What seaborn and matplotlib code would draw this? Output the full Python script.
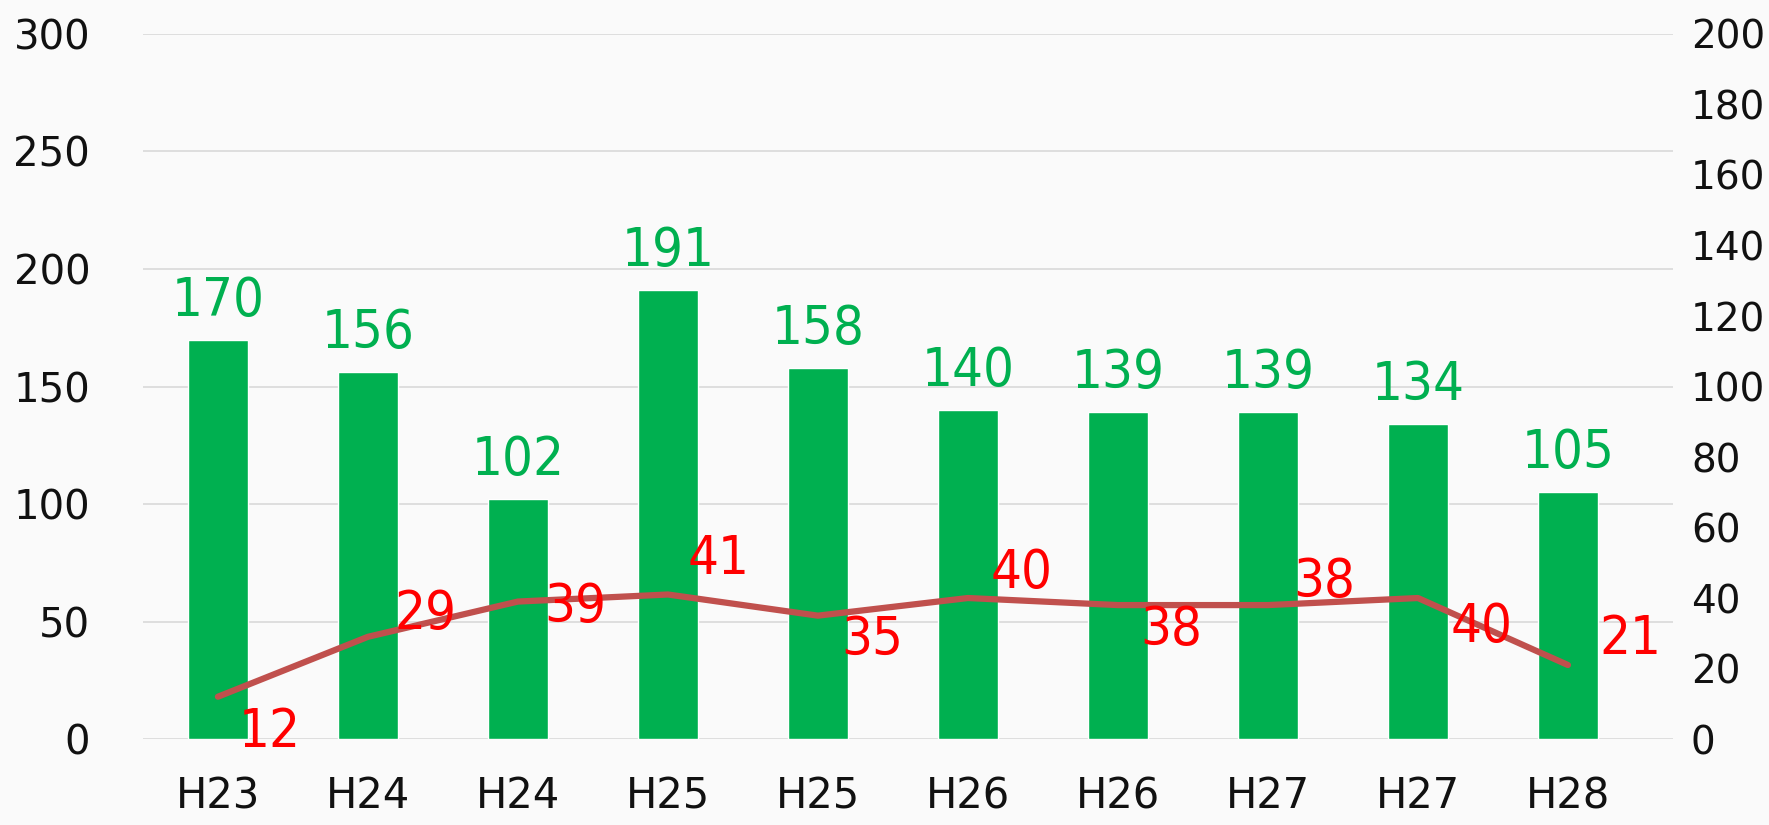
import numpy as np
import pandas as pd
import matplotlib
matplotlib.use("Agg")
import matplotlib.pyplot as plt
import seaborn as sns

# dados
categorias = ["H23", "H24", "H24", "H25", "H25", "H26", "H26", "H27", "H27", "H28"]
barras = [170, 156, 102, 191, 158, 140, 139, 139, 134, 105]
linha = [12, 29, 39, 41, 35, 40, 38, 38, 40, 21]
# deslocamento dos rótulos da linha (pixels): direita / cima(-) ou baixo(+)
rot_dx = [52, 57, 57, 51, 54, 54, 53, 56, 64, 62]
rot_dy = [35, -23, 5, -36, 24, -25, 25, -23, 29, -26]

df = pd.DataFrame({"idx": np.arange(len(categorias)), "barras": barras, "linha": linha})

sns.set_style("white")
plt.rcParams["font.family"] = ["DejaVu Sans"]

fig = plt.figure(figsize=(17.69, 8.25), dpi=100)
fig.patch.set_facecolor("#FAFAFA")
ax = fig.add_axes([0.0808, 0.1042, 0.8649, 0.8546])
ax.set_facecolor("#FAFAFA")

verde = "#00B050"
sns.barplot(data=df, x="idx", y="barras", color=verde, width=0.40,
            saturation=1, native_scale=True, ax=ax)
ax.set_xlim(-0.5, 9.7)
ax.set_ylim(0, 300)
ax.set_yticks(range(0, 301, 50))
ax.grid(axis="y", color="#D9D9D9", lw=1.2)
ax.set_axisbelow(True)
for s in ax.spines.values():
    s.set_visible(False)
ax.set_xticks(df["idx"])
ax.set_xticklabels(categorias)
ax.tick_params(axis="y", length=0, pad=38, labelsize=29, labelcolor="#111111")
ax.tick_params(axis="x", length=0, pad=26, labelsize=30, labelcolor="#111111")
ax.set_xlabel("")
ax.set_ylabel("")

fonte_num = ["DejaVu Sans"]
for i, v in enumerate(barras):
    ax.annotate(str(v), (i, v), xytext=(0, 13), textcoords="offset pixels",
                ha="center", va="bottom", color=verde, fontsize=39,
                family=fonte_num, fontstretch="condensed")

ax2 = ax.twinx()
sns.lineplot(data=df, x="idx", y="linha", color="#C0504D", lw=4.5, ax=ax2)
ax2.set_ylim(0, 200)
ax2.set_yticks(range(0, 201, 20))
ax2.tick_params(axis="y", length=0, pad=13, labelsize=28, labelcolor="#111111")
ax2.set_xlabel("")
ax2.set_ylabel("")
for s in ax2.spines.values():
    s.set_visible(False)
for i, v in enumerate(linha):
    ax2.annotate(str(v), (i, v), xytext=(rot_dx[i], -rot_dy[i]), textcoords="offset pixels",
                 ha="center", va="center", color="#FF0000", fontsize=39,
                 family=fonte_num, fontstretch="condensed")

fig.savefig("out.png", dpi=100, facecolor=fig.get_facecolor())
